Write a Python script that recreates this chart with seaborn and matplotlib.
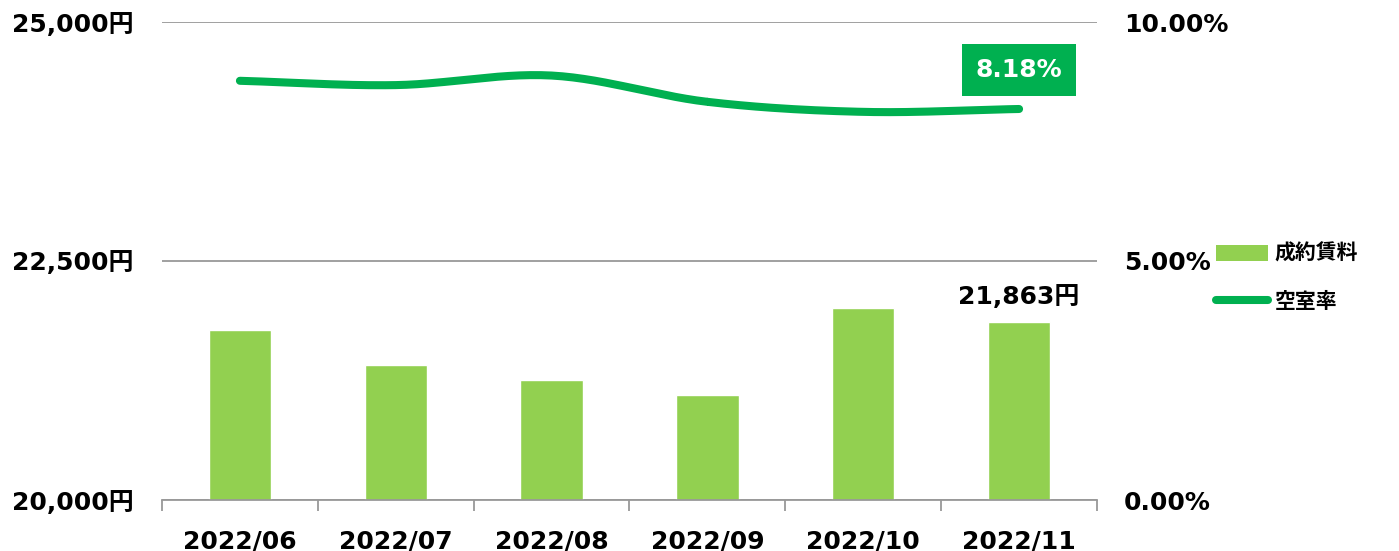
import numpy as np
import pandas as pd
import matplotlib
matplotlib.use("Agg")
import matplotlib.pyplot as plt
import seaborn as sns
from matplotlib.patches import Patch
from matplotlib.lines import Line2D

months = ["2022/06", "2022/07", "2022/08", "2022/09", "2022/10", "2022/11"]
rent = [21780, 21410, 21255, 21100, 22010, 21863]
vacancy = [8.77, 8.68, 8.88, 8.33, 8.12, 8.18]
left_ticks = [20000, 22500, 25000]
right_ticks = [0, 5, 10]

sns.set_theme(style="white")
plt.rcParams['font.family'] = ['DejaVu Sans', 'Noto Sans CJK JP']
plt.rcParams['font.weight'] = 'bold'
plt.rcParams['text.color'] = 'black'
plt.rcParams['xtick.color'] = 'black'
plt.rcParams['ytick.color'] = 'black'

BAR = "#92D050"
LINE = "#00B050"
FS = 18

fig = plt.figure(figsize=(13.99, 5.51), dpi=100)
ax = fig.add_axes([162/1399, 51/551, (1097-162)/1399, (500-22)/551])

df = pd.DataFrame({"month": months, "rent": rent, "vacancy": vacancy})
sns.barplot(data=df, x="month", y="rent", color=BAR, width=0.4, ax=ax, saturation=1)
ax.set_ylim(20000, 25000)
ax.set_xlim(-0.5, len(months) - 0.5)
ax.set_yticks(left_ticks)
ax.set_yticklabels([f"{v:,}円" for v in left_ticks], fontsize=FS, fontweight='bold')
ax.yaxis.grid(True, color="#999999", linewidth=1.3)
ax.set_axisbelow(True)
ax.set_xlabel("")
ax.set_ylabel("")
ax.set_xticks(range(len(months)))
ax.set_xticklabels(months, fontsize=FS, fontweight='bold')
ax.tick_params(axis='x', which='major', length=0, pad=21, colors='black')
ax.set_xticks(np.arange(-0.5, len(months)), minor=True)
ax.tick_params(axis='x', which='minor', length=8, width=1.3, color="#999999", bottom=True)
ax.tick_params(axis='y', length=0, pad=20.5, colors='black')
for s in ["top", "right", "left"]:
    ax.spines[s].set_visible(False)
ax.spines["bottom"].set_color("#999999")
ax.spines["bottom"].set_linewidth(1.3)

# last bar label
ax.text(len(months) - 1, rent[-1] + 130, f"{rent[-1]:,}円", ha="center", va="bottom",
        fontsize=FS, fontweight='bold', color='black')

ax2 = ax.twinx()
ax2.set_ylim(0, 10)
ax2.set_yticks(right_ticks)
ax2.set_yticklabels([f"{v:.2f}%" for v in right_ticks], fontsize=FS, fontweight='bold')
ax2.tick_params(axis='y', length=0, pad=19.5, colors='black')
for s in ax2.spines.values():
    s.set_visible(False)

# smoothed line (Catmull-Rom through data points)
xs = np.arange(len(vacancy), dtype=float)
ys = np.array(vacancy, dtype=float)
px = np.concatenate([[2*xs[0]-xs[1]], xs, [2*xs[-1]-xs[-2]]])
py = np.concatenate([[2*ys[0]-ys[1]], ys, [2*ys[-1]-ys[-2]]])
cx, cy = [], []
t = np.linspace(0, 1, 30)
for i in range(1, len(px) - 2):
    p0, p1, p2, p3 = [np.array([px[j], py[j]]) for j in (i-1, i, i+1, i+2)]
    for tt in t:
        pt = 0.5 * ((2*p1) + (-p0 + p2)*tt + (2*p0 - 5*p1 + 4*p2 - p3)*tt**2 + (-p0 + 3*p1 - 3*p2 + p3)*tt**3)
        cx.append(pt[0]); cy.append(pt[1])
sns.lineplot(x=cx, y=cy, ax=ax2, color=LINE, linewidth=5.8, sort=False,
             solid_capstyle="round", estimator=None)

ax2.text(len(months) - 1, vacancy[-1] + 0.82, f"{vacancy[-1]:.2f}%", ha="center", va="center",
         fontsize=FS, fontweight='bold', color="white",
         bbox=dict(boxstyle="square,pad=0.55", facecolor=LINE, edgecolor="none"))

handles = [Patch(facecolor=BAR, edgecolor="none"),
           Line2D([0], [0], color=LINE, linewidth=5.8, solid_capstyle="round")]
fig.legend(handles, ["成約賃料", "空室率"], loc="upper left",
           bbox_to_anchor=(1216/1399, 1 - 243/551), frameon=False,
           borderpad=0, borderaxespad=0,
           prop={'size': 15, 'weight': 'bold', 'family': ['Noto Sans CJK JP']},
           handlelength=2.5, handleheight=0.8, handletextpad=0.3, labelspacing=1.3)

fig.savefig("out.png", dpi=100)
